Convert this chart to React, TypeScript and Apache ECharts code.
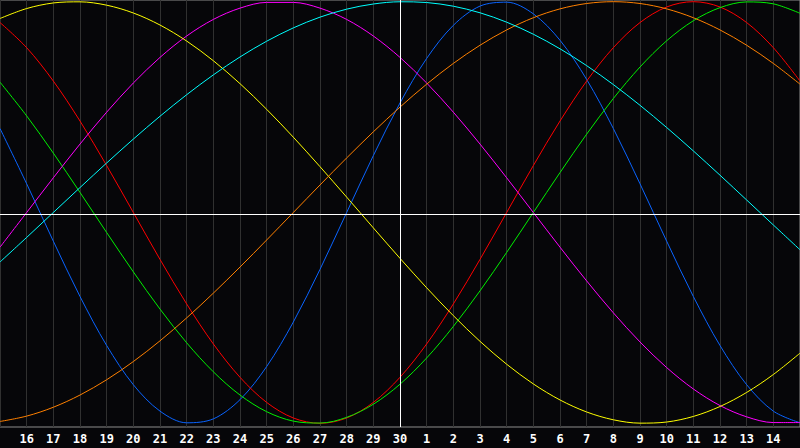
import React, { useEffect, useRef } from 'react';
import * as echarts from 'echarts';

// Day labels along the bottom (index 0 and 30 sit on the plot edges)
const dayLabels = [
  '15', '16', '17', '18', '19', '20', '21', '22', '23', '24', '25', '26', '27', '28', '29', '30',
  '1', '2', '3', '4', '5', '6', '7', '8', '9', '10', '11', '12', '13', '14', '15',
];

// Daily cycle values (-1 .. 1)
const physical23 = [0.3984, 0.1362, -0.1362, -0.3984, -0.631, -0.817, -0.9423, -0.9977, -0.9791, -0.8879, -0.7308, -0.5196, -0.2698, 0, 0.2698, 0.5196, 0.7308, 0.8879, 0.9791, 0.9977, 0.9423, 0.817, 0.631, 0.3984, 0.1362, -0.1362, -0.3984, -0.631, -0.817, -0.9423, -0.9977];
const emotional28 = [0.901, 0.7818, 0.6235, 0.4339, 0.2225, 0, -0.2225, -0.4339, -0.6235, -0.7818, -0.901, -0.9749, -1, -0.9749, -0.901, -0.7818, -0.6235, -0.4339, -0.2225, 0, 0.2225, 0.4339, 0.6235, 0.7818, 0.901, 0.9749, 1, 0.9749, 0.901, 0.7818, 0.6235];
const intellectual33 = [0.6182, 0.4582, 0.2817, 0.0951, -0.0951, -0.2817, -0.4582, -0.6182, -0.7557, -0.866, -0.945, -0.9898, -0.9989, -0.9718, -0.9096, -0.8146, -0.6901, -0.5406, -0.3717, -0.1893, 0, 0.1893, 0.3717, 0.5406, 0.6901, 0.8146, 0.9096, 0.9718, 0.9989, 0.9898, 0.945];
const intuitive38 = [-0.1646, 0, 0.1646, 0.3247, 0.4759, 0.6142, 0.7357, 0.8372, 0.9158, 0.9694, 0.9966, 0.9966, 0.9694, 0.9158, 0.8372, 0.7357, 0.6142, 0.4759, 0.3247, 0.1646, 0, -0.1646, -0.3247, -0.4759, -0.6142, -0.7357, -0.8372, -0.9158, -0.9694, -0.9966, -0.9966];
const aesthetic43 = [0.9203, 0.9675, 0.994, 0.9993, 0.9834, 0.9464, 0.8893, 0.8133, 0.7199, 0.6112, 0.4894, 0.3572, 0.2174, 0.073, -0.073, -0.2174, -0.3572, -0.4894, -0.6112, -0.7199, -0.8133, -0.8893, -0.9464, -0.9834, -0.9993, -0.994, -0.9675, -0.9203, -0.8536, -0.7686, -0.6673];
const awareness48 = [-0.9914, -0.9659, -0.9239, -0.866, -0.7934, -0.7071, -0.6088, -0.5, -0.3827, -0.2588, -0.1305, 0, 0.1305, 0.2588, 0.3827, 0.5, 0.6088, 0.7071, 0.7934, 0.866, 0.9239, 0.9659, 0.9914, 1, 0.9914, 0.9659, 0.9239, 0.866, 0.7934, 0.7071, 0.6088];
const spiritual53 = [-0.2349, -0.1183, 0, 0.1183, 0.2349, 0.3482, 0.4566, 0.5586, 0.6528, 0.7378, 0.8125, 0.8757, 0.9267, 0.9646, 0.989, 0.9996, 0.996, 0.9786, 0.9473, 0.9028, 0.8456, 0.7765, 0.6966, 0.6068, 0.5085, 0.4031, 0.2921, 0.1769, 0.0592, -0.0592, -0.1769];

const seriesNames = ['Physical', 'Emotional', 'Intellectual', 'Intuitive', 'Aesthetic', 'Awareness', 'Spiritual'];
const seriesValues = [physical23, emotional28, intellectual33, intuitive38, aesthetic43, awareness48, spiritual53];
const seriesColors = ['#0a64ff', '#ff0000', '#00f000', '#ff00ff', '#ffff00', '#ff8000', '#00ffff'];

export default function App() {
  const ref = useRef<HTMLDivElement>(null);
  useEffect(() => {
    if (!ref.current) return;
    const chart = echarts.init(ref.current, null, { renderer: 'svg' });
    const series: any[] = seriesValues.map((vals, si) => ({
      type: 'line',
      name: seriesNames[si],
      data: vals.map((v, i) => [i, v]),
      smooth: 0.33,
      symbol: 'none',
      showSymbol: false,
      lineStyle: { color: seriesColors[si], width: 1 },
      itemStyle: { color: seriesColors[si] },
      z: 3,
    }));
    series.push({
      type: 'line',
      name: 'axes',
      data: [],
      z: 2,
      markLine: {
        silent: true,
        symbol: ['none', 'none'],
        label: { show: false },
        lineStyle: { color: '#ffffff', width: 1, type: 'solid' },
        data: [{ yAxis: -0.0086 }, { xAxis: 15 }],
      },
    });
    chart.setOption({
      animation: false,
      backgroundColor: '#060609',
      grid: {
        left: 0,
        right: 0,
        top: 0,
        height: 427,
        show: true,
        borderColor: '#8c8c8c',
        borderWidth: 1,
        backgroundColor: 'transparent',
      },
      xAxis: {
        type: 'value',
        min: 0,
        max: 30,
        interval: 1,
        axisLine: { show: false },
        axisTick: { show: false },
        splitLine: { show: true, lineStyle: { color: '#303030', width: 1 } },
        axisLabel: {
          color: '#ffffff',
          fontWeight: 'bold',
          fontFamily: 'DejaVu Sans Mono',
          fontSize: 12,
          margin: 6,
          showMinLabel: false,
          showMaxLabel: false,
          formatter: (v: number) => dayLabels[Math.round(v)] ?? '',
        },
      },
      yAxis: {
        type: 'value',
        min: -1.0176,
        max: 1.008,
        show: false,
        splitLine: { show: false },
      },
      series,
    });
    return () => chart.dispose();
  }, []);
  return <div ref={ref} style={{ position: 'fixed', left: 0, top: 0, width: 800, height: 448 }} />;
}
